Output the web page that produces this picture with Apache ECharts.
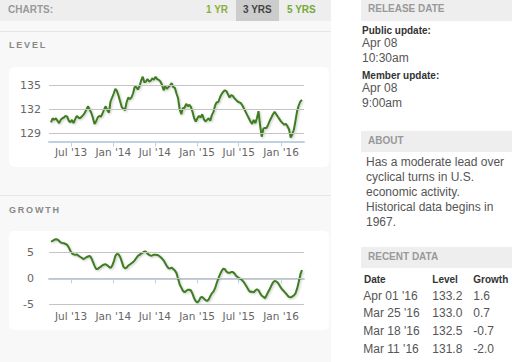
<!DOCTYPE html>
<html><head><meta charset="utf-8">
<script src="https://cdn.jsdelivr.net/npm/echarts@6/dist/echarts.min.js"></script>
<style>
html,body{margin:0;padding:0;width:512px;height:362px;overflow:hidden;background:#fff;font-family:"Liberation Sans",Arial,sans-serif;}
.a{position:absolute;white-space:nowrap;}
.bar{position:absolute;background:#eeeeee;}
.h10{font-size:10px;line-height:12px;font-weight:bold;}
.sec{font-size:9px;line-height:11px;font-weight:bold;letter-spacing:1.8px;color:#888;}
.v12{font-size:12px;line-height:14px;color:#555;}
#chart{position:absolute;left:0;top:0;width:512px;height:362px;z-index:5;}
</style></head><body>
<div class="a" style="left:0;top:0;width:331px;height:362px;background:#f8f8f8"></div>
<div class="bar" style="left:0;top:0;width:331px;height:21px"></div>
<div class="a" style="left:236px;top:0;width:43px;height:21px;background:#cccccc"></div>
<div class="a h10" style="left:8px;top:4px;color:#999">CHARTS:</div>
<div class="a h10" style="left:206px;top:4px;color:#8cae3c">1 YR</div>
<div class="a h10" style="left:243px;top:4px;color:#444">3 YRS</div>
<div class="a h10" style="left:287px;top:4px;color:#76a83a">5 YRS</div>
<div class="a" style="left:0;top:31px;width:331px;height:1px;background:#e6e6e6"></div>
<div class="a" style="left:0;top:195px;width:331px;height:1px;background:#e6e6e6"></div>
<div class="a sec" style="left:9px;top:40px">LEVEL</div>
<div class="a sec" style="left:9px;top:204.5px">GROWTH</div>
<div class="a" style="left:9px;top:67px;width:320px;height:100px;background:#fff;border-radius:5px"></div>
<div class="a" style="left:9px;top:231px;width:320px;height:99px;background:#fff;border-radius:5px"></div>

<div class="bar" style="left:361px;top:0;width:151px;height:21px"></div>
<div class="a h10" style="left:368px;top:3.3px;color:#999">RELEASE DATE</div>
<div class="a h10" style="left:362px;top:24.7px;color:#333">Public update:</div>
<div class="a v12" style="left:362px;top:35.5px">Apr 08</div>
<div class="a v12" style="left:362px;top:50.7px">10:30am</div>
<div class="a h10" style="left:362px;top:69.7px;color:#333">Member update:</div>
<div class="a v12" style="left:362px;top:80.5px">Apr 08</div>
<div class="a v12" style="left:362px;top:95.5px">9:00am</div>

<div class="bar" style="left:361px;top:131px;width:151px;height:21px"></div>
<div class="a h10" style="left:368px;top:134.7px;color:#999">ABOUT</div>
<div class="a" style="left:366px;top:155px;font-size:12px;line-height:15px;color:#555">Has a moderate lead over<br>cyclical turns in U.S.<br>economic activity.<br>Historical data begins in<br>1967.</div>

<div class="bar" style="left:361px;top:247px;width:151px;height:21px"></div>
<div class="a h10" style="left:368px;top:250.7px;color:#999">RECENT DATA</div>
<div id="tbl"></div>
<div id="chart"></div>
<script>
// ---- data ----
var startDate = Date.UTC(2013, 3, 5); // first weekly observation (Fri)
var levelValues = [
130.4,130.9,130.7,130.9,130.6,130.3,130.7,130.9,131.0,131.2,
131.1,130.6,130.4,130.7,130.3,130.8,131.2,131.0,130.9,131.1,
131.3,131.6,132.0,132.4,132.0,131.6,131.0,130.2,130.5,131.0,
131.2,131.1,131.5,132.0,132.4,131.9,131.6,133.0,133.5,134.0,
134.6,134.3,133.7,133.0,132.3,132.1,131.9,132.9,133.5,133.3,
133.5,134.0,134.8,134.8,134.5,134.9,135.6,136.1,135.4,135.5,
135.8,135.5,135.6,135.9,135.7,136.1,135.8,135.7,135.5,135.1,
134.4,134.9,134.6,134.8,135.0,135.3,134.8,134.7,134.0,133.4,
132.0,131.4,132.2,132.2,132.7,132.4,132.6,132.3,131.7,130.9,
130.5,130.9,131.2,131.0,131.4,130.8,130.5,130.7,130.9,130.6,
131.3,131.7,132.5,132.9,132.9,133.5,133.9,134.2,134.4,134.3,
133.9,133.5,133.8,133.7,133.4,133.2,133.0,132.9,132.8,132.5,
132.1,131.7,131.3,130.9,130.5,130.2,130.7,130.3,130.9,131.8,
130.0,128.6,129.6,129.7,129.7,130.1,130.6,131.0,131.4,131.7,
131.4,131.1,130.8,130.5,130.3,130.1,130.2,129.9,129.5,128.5,
128.9,129.5,130.6,131.8,132.5,133.0,133.2];
var growthValues = [
7.05,7.2,7.4,7.5,7.45,7.2,6.9,6.8,6.75,6.6,
6.45,5.95,5.3,4.8,4.6,4.5,4.6,4.35,4.15,3.95,
3.7,3.85,4.05,4.2,4.3,3.95,3.2,2.45,1.8,1.8,
2.05,2.25,2.5,2.65,2.7,2.5,2.2,2.0,2.4,3.2,
4.3,4.7,4.6,4.1,3.2,2.25,1.9,2.05,2.45,2.65,
2.9,3.1,3.45,3.9,4.3,4.5,4.75,4.95,5.15,5.1,
4.75,4.5,4.35,4.4,4.55,4.55,4.5,4.35,4.1,3.8,
3.45,2.9,2.35,1.95,1.9,2.05,1.8,1.5,1.0,-0.1,
-1.2,-1.8,-2.4,-2.7,-2.45,-2.2,-2.2,-2.35,-3.0,-3.85,
-4.4,-4.65,-4.3,-3.7,-3.6,-3.9,-4.2,-4.35,-4.1,-3.45,
-2.9,-2.55,-1.9,-0.95,-0.05,0.7,1.35,1.85,1.8,1.3,
1.05,1.05,1.2,1.2,0.95,0.5,0.25,0.05,-0.15,-0.45,
-0.8,-1.3,-1.8,-2.35,-2.65,-2.55,-2.7,-2.35,-2.1,-2.3,
-2.9,-3.35,-3.55,-3.85,-3.25,-2.65,-2.05,-1.4,-0.8,-0.5,
-0.6,-0.85,-1.35,-1.85,-2.25,-2.55,-2.9,-3.3,-3.6,-3.65,
-3.5,-3.3,-2.9,-2.0,-0.7,0.7,1.6];
var xTickDates = [Date.UTC(2013,6,1),Date.UTC(2014,0,1),Date.UTC(2014,6,1),Date.UTC(2015,0,1),Date.UTC(2015,6,1),Date.UTC(2016,0,1)];
var xTickLabels = ["Jul '13","Jan '14","Jul '14","Jan '15","Jul '15","Jan '16"];
var levelTicks = [129,132,135];
var growthTicks = [-5,0,5];
var recentDates = ["Apr 01 '16","Mar 25 '16","Mar 18 '16","Mar 11 '16"];
var recentLevel = ["133.2","133.0","132.5","131.8"];
var recentGrowth = ["1.6","0.7","-0.7","-2.0"];

// ---- table ----
(function(){
  var t = document.getElementById('tbl'), h = '';
  var cols = [364, 432.3, 473.3];
  var hd = ['Date','Level','Growth'];
  for (var c=0;c<3;c++) h += '<div class="a h10" style="left:'+cols[c]+'px;top:274px;color:#333">'+hd[c]+'</div>';
  var ys = [295.5,313.3,331,348.7];
  for (var r=0;r<recentDates.length;r++){
    var vals=[recentDates[r],recentLevel[r],recentGrowth[r]];
    for (var c2=0;c2<3;c2++) h += '<div class="a v12" style="left:'+(c2===0?363.3:cols[c2])+'px;top:'+(ys[r]-7)+'px">'+vals[c2]+'</div>';
  }
  t.innerHTML = h;
})();

// ---- chart ----
var DAY = 86400000;
var dates = levelValues.map(function(_, k){ return startDate + k*7*DAY; });
var lvData = dates.map(function(d,i){ return [d, levelValues[i]]; });
var grData = dates.map(function(d,i){ return [d, growthValues[i]]; });
function xLab(v){
  for (var i=0;i<xTickDates.length;i++) if (Math.abs(xTickDates[i]-v) < DAY) return xTickLabels[i];
  return '';
}
function xAxisCfg(idx, margin){
  return {type:'value', gridIndex:idx, min:Date.UTC(2013,2,27,6), max:Date.UTC(2016,3,10), scale:true,
    axisLine:{show:true, lineStyle:{color:'#c0d0e0', width:2}},
    axisTick:{show:true, customValues:xTickDates, length:5, lineStyle:{color:'#c0d0e0', width:1}},
    axisLabel:{customValues:xTickDates, formatter:xLab, color:'#666', fontSize:10.5, fontFamily:'DejaVu Sans', margin:margin},
    splitLine:{show:false}};
}
function yAxisCfg(idx, min, max, ticks, margin){
  return {type:'value', gridIndex:idx, min:min, max:max, interval:1,
    axisLine:{show:false}, axisTick:{show:false}, splitLine:{show:false},
    axisLabel:{formatter:function(v){ return ticks.indexOf(v)>=0 ? String(v) : ''; }, color:'#666', fontSize:11, fontFamily:'DejaVu Sans', margin:margin}};
}
function gridSeries(idx, ticks){
  return {type:'line', xAxisIndex:idx, yAxisIndex:idx, data:[], z:1, silent:true,
    markLine:{silent:true, symbol:['none','none'], label:{show:false}, animation:false,
      lineStyle:{color:'#c4c4c4', width:1, type:'solid'},
      data: ticks.map(function(v){ return {yAxis:v}; })}};
}
function lineSeries(idx, data){
  return {type:'line', xAxisIndex:idx, yAxisIndex:idx, data:data, z:3, showSymbol:false, silent:true,
    lineStyle:{color:'#3f7d22', width:2, shadowColor:'rgba(0,0,0,0.22)', shadowBlur:2, shadowOffsetX:1, shadowOffsetY:1},
    itemStyle:{color:'#3f7d22'}};
}
var chart = echarts.init(document.getElementById('chart'), null, {renderer:'svg'});
chart.setOption({
  animation:false,
  backgroundColor:'transparent',
  grid:[{left:49, right:208, top:69.5, bottom:220.5},{left:49, right:208, top:234.1, bottom:57.7}],
  xAxis:[xAxisCfg(0,5), xAxisCfg(1,6)],
  yAxis:[yAxisCfg(0,128,137,levelTicks,8), yAxisCfg(1,-5,8.5,growthTicks,15)],
  series:[gridSeries(0, levelTicks), gridSeries(1, growthTicks), lineSeries(0, lvData), lineSeries(1, grData)]
});
</script>
</body></html>
